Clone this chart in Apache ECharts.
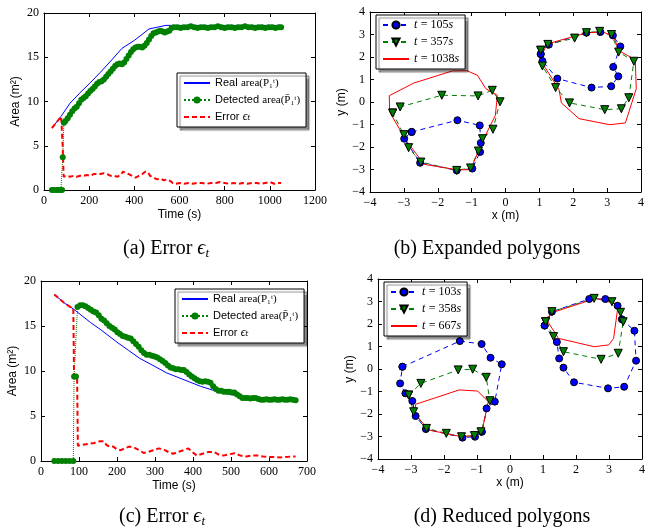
<!DOCTYPE html>
<html><head><meta charset="utf-8">
<script src="https://cdn.jsdelivr.net/npm/echarts@6/dist/echarts.min.js"></script>
<style>html,body{margin:0;padding:0;background:#fff}#c{width:648px;height:527px}</style>
</head><body><div id="c"></div>
<script>
// ---------- data (a) ----------
const aReal = [[35,7.0],[75,8.3],[115,9.8],[160,11.0],[200,12.0],[250,13.3],[300,14.7],[345,16.0],[400,16.9],[465,18.2],[540,18.6],[700,18.6],[1050,18.6]];
const aDetected = [[35,0],[45,0],[55,0],[65,0],[75,0],[80,0],[83,3.7],[88,7.6],[95,7.8],[105,8.1],[115,8.5],[125,8.9],[135,9.2],[145,9.4],[155,9.8],[165,10.2],[175,10.4],[185,10.6],[195,10.9],[205,11.2],[215,11.4],[225,11.7],[235,12.0],[245,12.2],[255,12.3],[265,12.5],[275,12.8],[285,13.1],[295,13.4],[305,13.7],[315,14.0],[325,14.2],[335,14.3],[345,14.2],[355,14.4],[365,14.8],[375,15.2],[385,15.6],[395,15.9],[405,16.1],[415,16.2],[425,16.2],[435,16.1],[445,16.3],[455,16.6],[465,17.0],[475,17.4],[485,17.7],[495,17.8],[505,17.9],[515,18.0],[525,17.9],[535,17.8],[545,17.9],[555,18.0],[565,18.3],[575,18.4],[590,18.4],[605,18.3],[620,18.4],[635,18.4],[650,18.5],[665,18.4],[680,18.3],[695,18.4],[710,18.4],[725,18.3],[740,18.4],[755,18.4],[770,18.5],[785,18.4],[800,18.3],[815,18.4],[830,18.4],[845,18.3],[860,18.4],[875,18.4],[890,18.5],[905,18.4],[920,18.4],[935,18.3],[950,18.4],[965,18.4],[980,18.3],[995,18.4],[1010,18.4],[1025,18.3],[1040,18.4],[1050,18.4]];
const aError = [[35,7.0],[76,8.3],[83,4.8],[87,1.5],[100,1.6],[115,1.5],[130,1.6],[145,1.5],[160,1.6],[175,1.6],[190,1.7],[205,1.6],[220,1.8],[235,1.8],[250,1.8],[265,1.9],[280,1.8],[295,1.6],[310,1.6],[325,1.5],[340,1.7],[350,2.1],[360,1.9],[375,1.8],[390,1.6],[405,1.4],[420,1.6],[435,1.8],[450,2.1],[460,2.0],[470,1.6],[485,1.4],[500,1.2],[515,1.3],[530,1.1],[545,1.2],[560,1.0],[570,0.8],[585,0.7],[600,0.8],[620,0.7],[640,0.8],[660,0.7],[680,0.8],[700,0.8],[720,0.7],[740,0.8],[760,0.8],[780,0.9],[800,0.8],[820,0.7],[840,0.8],[860,0.7],[880,0.8],[900,0.7],[920,0.8],[940,0.8],[960,0.7],[980,0.8],[1000,0.9],[1020,0.7],[1040,0.8],[1050,0.8]];

// ---------- data (c) ----------
const cReal = [[35,18.5],[60,17.6],[85,16.9],[100,16.4],[130,15.4],[160,14.5],[200,13.2],[230,12.3],[260,11.4],[300,10.5],[330,9.8],[360,9.3],[390,8.8],[420,8.3],[450,7.9],[480,7.55],[510,7.3],[540,7.1],[570,7.0],[600,6.95],[640,6.9],[670,6.9]];
const cDetected = [[35,0],[45,0],[55,0],[65,0],[75,0],[85,0],[87,9.4],[92,9.4],[96,17.1],[103,17.3],[110,17.3],[117,17.2],[124,17.0],[131,16.8],[138,16.6],[145,16.5],[152,16.2],[159,15.8],[166,15.6],[173,15.3],[180,15.0],[187,14.8],[194,14.6],[201,14.3],[208,14.1],[215,13.9],[222,13.8],[229,13.7],[236,13.6],[243,13.3],[250,13.0],[257,12.7],[264,12.3],[271,12.0],[278,11.8],[285,11.8],[292,11.7],[299,11.6],[306,11.5],[313,11.3],[320,11.1],[327,10.9],[334,10.6],[341,10.4],[348,10.3],[355,10.2],[362,10.2],[369,10.1],[376,10.1],[383,9.9],[390,9.6],[397,9.4],[404,9.2],[411,9.0],[418,8.85],[425,8.8],[432,8.85],[439,8.8],[446,8.7],[453,8.3],[460,8.0],[467,7.8],[474,7.8],[481,7.7],[488,7.7],[495,7.7],[502,7.6],[509,7.6],[516,7.4],[523,7.2],[530,7.0],[537,7.0],[544,7.0],[551,6.95],[558,7.0],[565,7.0],[572,6.9],[579,6.8],[586,6.8],[593,6.85],[600,6.8],[607,6.8],[614,6.85],[621,6.8],[628,6.8],[635,6.85],[642,6.8],[649,6.8],[656,6.85],[663,6.8],[670,6.75]];
const cError = [[35,18.5],[60,17.6],[85,16.9],[87,9.4],[95,9.3],[97,1.7],[110,1.8],[125,1.9],[140,2.0],[155,2.2],[165,2.2],[172,1.8],[180,1.6],[190,1.6],[200,1.3],[210,1.2],[220,1.4],[232,1.6],[245,1.5],[258,1.2],[270,0.9],[282,1.0],[295,1.2],[310,1.4],[322,1.3],[335,1.0],[348,0.8],[360,1.0],[375,1.2],[388,1.4],[398,1.0],[410,0.6],[425,0.8],[440,1.0],[455,1.0],[468,0.7],[480,0.6],[495,0.75],[510,0.85],[525,0.6],[540,0.5],[555,0.6],[570,0.6],[585,0.5],[600,0.45],[615,0.45],[630,0.4],[645,0.45],[660,0.5],[670,0.5]];

// ---------- data (b) expanded polygons ----------
const bBlueL = [[-2.77,-1.33],[-1.42,-0.81],[-0.76,-1.04],[-0.73,-1.82],[-0.75,-2.22],[-0.98,-2.96],[-1.44,-3.04],[-2.52,-2.70],[-2.99,-1.63]];
const bBlueR = [[1.04,2.13],[1.09,1.82],[1.53,1.04],[2.54,0.64],[3.12,0.70],[3.33,1.14],[3.18,1.56],[3.39,2.47],[3.17,2.96],[2.80,3.11],[2.39,3.08],[1.28,2.55]];
const bGreenL = [[-3.33,-0.49],[-3.11,-0.22],[-1.88,0.30],[-0.81,0.27],[-0.39,0.52],[-0.16,0.01],[-0.37,-1.21],[-0.68,-1.63],[-0.80,-2.18],[-1.03,-2.93],[-1.44,-3.04],[-2.50,-2.67],[-2.86,-2.03],[-3.00,-1.45]];
const bGreenR = [[1.04,2.30],[1.25,2.56],[2.04,2.84],[2.39,3.08],[2.78,3.14],[3.13,3.00],[3.34,2.22],[3.79,1.81],[3.64,0.19],[3.42,-0.30],[2.93,-0.34],[1.89,-0.04],[1.48,0.64],[1.09,1.60]];
const bRedL = [[-3.43,0.28],[-2.71,0.84],[-1.57,1.38],[-1.14,1.39],[-0.83,1.19],[-0.58,0.59],[-0.24,0.30],[-0.30,-0.60],[-0.50,-1.20],[-0.73,-1.93],[-1.03,-3.01],[-1.44,-3.01],[-2.40,-2.77],[-2.94,-1.70],[-3.42,-0.44]];
const bRedR = [[1.09,2.19],[1.25,2.59],[2.41,3.08],[2.90,3.11],[3.20,2.86],[3.36,2.27],[3.83,1.88],[3.86,0.59],[3.54,-0.93],[3.08,-1.01],[2.17,-0.74],[1.65,-0.04],[1.58,0.55],[1.13,1.63]];

// ---------- data (d) reduced polygons ----------
const dBlueL = [[-3.26,0.10],[-1.52,1.24],[-0.86,1.11],[-0.59,0.50],[-0.25,0.21],[-0.46,-1.45],[-0.71,-1.75],[-0.85,-2.79],[-1.06,-3.01],[-1.44,-3.05],[-2.55,-2.67],[-2.86,-2.09],[-2.96,-1.42],[-3.17,-1.08],[-3.33,-0.64]];
const dBlueR = [[1.05,1.93],[1.27,2.55],[2.40,3.11],[2.89,3.11],[3.26,2.81],[3.39,2.21],[3.77,1.70],[3.82,0.37],[3.46,-0.79],[2.97,-0.86],[1.94,-0.59],[1.62,0.06],[1.49,0.47],[1.42,1.20]];
const dGreenL = [[-3.07,-1.16],[-2.70,-0.64],[-1.57,-0.04],[-1.13,-0.01],[-0.72,-0.37],[-0.61,-1.41],[-0.88,-2.79],[-1.08,-2.96],[-1.47,-3.01],[-1.93,-2.86],[-2.53,-2.64],[-2.92,-1.90]];
const dGreenR = [[1.08,2.10],[1.27,2.55],[2.55,3.14],[3.09,2.99],[3.35,2.52],[3.43,2.10],[3.28,0.70],[2.76,0.43],[1.62,0.77],[1.32,1.44]];
const dRedL = [[-2.86,-1.57],[-1.54,-0.93],[-0.98,-0.98],[-0.66,-1.45],[-0.83,-2.64],[-1.08,-2.96],[-1.47,-3.01],[-2.47,-2.71],[-2.89,-1.97]];
const dRedR = [[1.08,2.25],[1.37,2.55],[2.60,3.14],[3.28,2.87],[3.14,1.36],[2.99,1.07],[2.55,0.99],[1.47,1.36]];

// ---------- labels ----------
const timeTimes = { b: ['105', '357', '1038'], d: ['103', '358', '667'] };
const captions = ['(a) Error ', '(b) Expanded polygons', '(c) Error ', '(d) Reduced polygons'];

const SERIF = "'Liberation Serif','DejaVu Serif',serif";
const SANS = "'Liberation Sans','DejaVu Sans',sans-serif";
const BLUE = '#0000ff', GREEN = '#008000', RED = '#ff0000';

const grids = [
  { left: 44, top: 13, width: 271, height: 177 },
  { left: 370, top: 12, width: 271, height: 180 },
  { left: 41, top: 281, width: 266, height: 180 },
  { left: 378, top: 279, width: 272, height: 180 }
];

const xAxes = [], yAxes = [];
function minusFmt(v) { return String(v).replace('-', '\u2212'); }
function addAxes(gi, xr, yr, xname, yname, xGap, yGap) {
  const common = {
    type: 'value', gridIndex: gi, splitLine: { show: false },
    axisLine: { onZero: false, lineStyle: { color: '#000', width: 1 } },
    axisTick: { inside: true, length: 4, lineStyle: { color: '#000' } }
  };
  const lab = { color: '#000', fontFamily: SERIF, fontSize: 12, margin: 5, formatter: minusFmt, showMinLabel: true, showMaxLabel: true };
  xAxes.push(Object.assign({}, common, { position: 'bottom', min: xr[0], max: xr[1], interval: xr[2], axisLabel: lab,
    name: xname, nameLocation: 'middle', nameGap: xGap, nameTextStyle: { fontFamily: SANS, fontSize: 12, color: '#000' } }));
  xAxes.push(Object.assign({}, common, { position: 'top', min: xr[0], max: xr[1], interval: xr[2], axisLabel: { show: false } }));
  yAxes.push(Object.assign({}, common, { position: 'left', min: yr[0], max: yr[1], interval: yr[2], axisLabel: lab,
    name: yname, nameLocation: 'middle', nameGap: yGap, nameTextStyle: { fontFamily: SANS, fontSize: 12, color: '#000' } }));
  yAxes.push(Object.assign({}, common, { position: 'right', min: yr[0], max: yr[1], interval: yr[2], axisLabel: { show: false } }));
}
addAxes(0, [0, 1200, 200], [0, 20, 5], 'Time (s)', 'Area (m\u00b2)', 19, 22);
addAxes(1, [-4, 4, 1], [-4, 4, 1], 'x (m)', 'y (m)', 18, 22);
addAxes(2, [0, 700, 100], [0, 20, 5], 'Time (s)', 'Area (m\u00b2)', 19, 22);
addAxes(3, [-4, 4, 1], [-4, 4, 1], 'x (m)', 'y (m)', 18, 22);

const series = [];
function timeSeries(gi, p, real, det, err) {
  const ax = { xAxisIndex: gi * 2, yAxisIndex: gi * 2 };
  series.push(Object.assign({ type: 'line', name: p + 'Real', data: real, symbol: 'none', animation: false,
    lineStyle: { color: BLUE, width: 1 }, itemStyle: { color: BLUE } }, ax));
  series.push(Object.assign({ type: 'line', name: p + 'Det', data: det, symbol: 'circle', symbolSize: 6, animation: false,
    lineStyle: { color: GREEN, width: 1, type: 'dotted' }, itemStyle: { color: GREEN, borderWidth: 0 } }, ax));
  series.push(Object.assign({ type: 'line', name: p + 'Err', data: err, symbol: 'none', animation: false,
    lineStyle: { color: RED, width: 2, type: [5, 3] }, itemStyle: { color: RED } }, ax));
}
timeSeries(0, 'a', aReal, aDetected, aError);
timeSeries(2, 'c', cReal, cDetected, cError);

function closed(a) { return a.concat([a[0]]); }
function polySeries(gi, name, kind, pts) {
  const s = { type: 'line', name: name, data: closed(pts), xAxisIndex: gi * 2, yAxisIndex: gi * 2, animation: false };
  if (kind === 'blue') {
    Object.assign(s, { symbol: 'circle', symbolSize: 7, itemStyle: { color: BLUE, borderColor: '#000', borderWidth: 1 },
      lineStyle: { color: BLUE, width: 1, type: [5, 4] } });
  } else if (kind === 'green') {
    Object.assign(s, { symbol: 'triangle', symbolRotate: 180, symbolSize: 8, itemStyle: { color: GREEN, borderColor: '#000', borderWidth: 1 },
      lineStyle: { color: GREEN, width: 1, type: [5, 4] } });
  } else {
    Object.assign(s, { symbol: 'none', itemStyle: { color: RED }, lineStyle: { color: RED, width: 1 } });
  }
  series.push(s);
}
polySeries(1, 'b0', 'blue', bBlueL); polySeries(1, 'b0', 'blue', bBlueR);
polySeries(1, 'b1', 'green', bGreenL); polySeries(1, 'b1', 'green', bGreenR);
polySeries(1, 'b2', 'red', bRedL); polySeries(1, 'b2', 'red', bRedR);
polySeries(3, 'd0', 'blue', dBlueL); polySeries(3, 'd0', 'blue', dBlueR);
polySeries(3, 'd1', 'green', dGreenL); polySeries(3, 'd1', 'green', dGreenR);
polySeries(3, 'd2', 'red', dRedL); polySeries(3, 'd2', 'red', dRedR);

const legRich = {
  s: { fontFamily: SANS, fontSize: 11, color: '#000' },
  m: { fontFamily: SERIF, fontSize: 11, color: '#000' },
  i: { fontFamily: SERIF, fontSize: 12, fontStyle: 'italic', color: '#000' },
  n: { fontFamily: SERIF, fontSize: 12, color: '#000' }
};
const timeLegText = {
  Real: '{s|Real} {m|area(P\u2081\u1d57)}',
  Det: '{s|Detected} {m|area(P\u0304\u2081\u1d57)}',
  Err: '{s|Error} {i|\u03f5\u209c}'
};
const noSym = { color: 'rgba(0,0,0,0)', borderWidth: 0 };
function legendBase(left, top, names, fmt) {
  return {
    left: left, top: top, orient: 'vertical', data: names, formatter: fmt,
    backgroundColor: '#fff', borderColor: '#000', borderWidth: 1, borderRadius: 0,
    shadowColor: 'rgba(0,0,0,0.45)', shadowBlur: 1, shadowOffsetX: 3, shadowOffsetY: 3,
    padding: [4, 6, 4, 6], itemGap: 5, itemWidth: 26, itemHeight: 9,
    textStyle: { rich: legRich, color: '#000' }, selectedMode: false
  };
}
const legends = [
  legendBase(177, 73, ['aReal', 'aDet', 'aErr'].map((n, i) => i === 1 ? n : { name: n, itemStyle: noSym }), n => timeLegText[n.slice(1)]),
  legendBase(376, 15, ['b0', 'b1', { name: 'b2', itemStyle: noSym }], n => '{i|t} {n|= ' + timeTimes.b[+n[1]] + '}{i|s}'),
  legendBase(175, 289, ['cReal', 'cDet', 'cErr'].map((n, i) => i === 1 ? n : { name: n, itemStyle: noSym }), n => timeLegText[n.slice(1)]),
  legendBase(384, 282, ['d0', 'd1', { name: 'd2', itemStyle: noSym }], n => '{i|t} {n|= ' + timeTimes.d[+n[1]] + '}{i|s}')
];

const capRich = {
  n: { fontFamily: SERIF, fontSize: 20, fill: '#000' },
  i: { fontFamily: SERIF, fontSize: 20, fontStyle: 'italic', fill: '#000' },
  sb: { fontFamily: SERIF, fontSize: 13, fontStyle: 'italic', fill: '#000', padding: [9, 0, 0, 0] }
};
function cap(x, y, idx, eps) {
  return { type: 'text', x: x, y: y, style: {
    text: '{n|' + captions[idx] + '}' + (eps ? '{i|\u03f5}{sb|t}' : ''),
    rich: capRich, align: 'center', verticalAlign: 'middle', fill: '#000' } };
}

const chart = echarts.init(document.getElementById('c'), null, { renderer: 'canvas' });
chart.setOption({
  backgroundColor: '#fff', animation: false,
  grid: grids, xAxis: xAxes, yAxis: yAxes, series: series, legend: legends,
  graphic: [cap(166, 249, 0, true), cap(487, 249, 1, false), cap(162, 517, 2, true), cap(502, 517, 3, false)]
});
</script></body></html>
